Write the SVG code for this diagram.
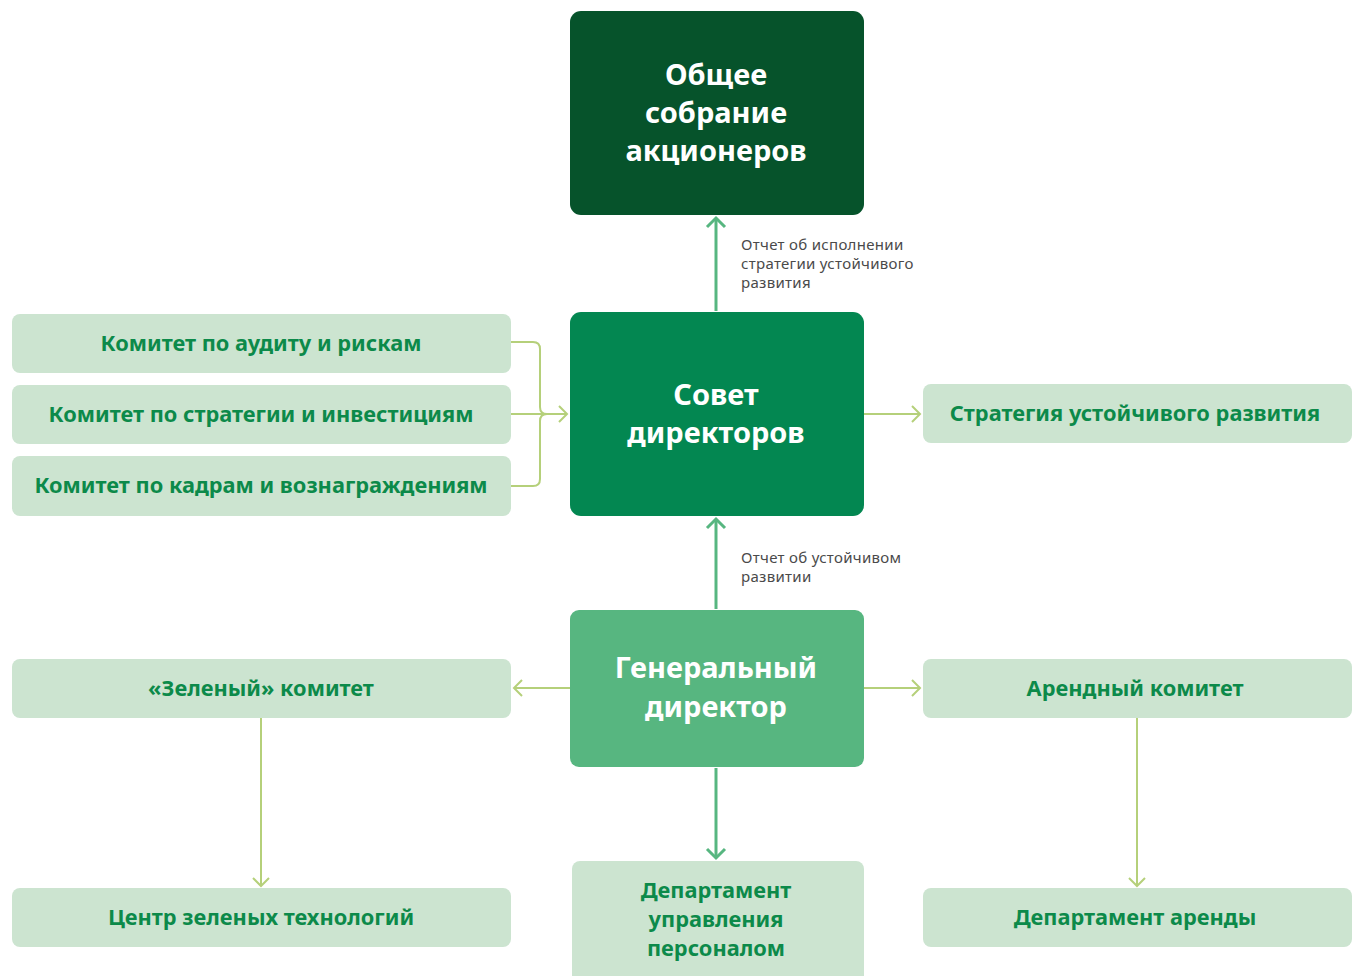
<svg xmlns="http://www.w3.org/2000/svg" width="1354" height="976" viewBox="0 0 1354 976">
<style>
.lt{fill:#cce4d0}
.lbl{font-family:"Noto Sans","Liberation Sans",sans-serif;font-weight:bold;font-size:21.8px;fill:#0c8a4a;text-anchor:middle}
.big{font-family:"Noto Sans","Liberation Sans",sans-serif;font-weight:bold;font-size:29px;fill:#ffffff;text-anchor:middle}
.note{font-family:"Noto Sans","Liberation Sans",sans-serif;font-size:15px;letter-spacing:0.3px;fill:#4a4a4a}
.cg{fill:none;stroke:#57b680;stroke-width:3}
.cy{fill:none;stroke:#b5d07a;stroke-width:2}
</style>
<defs>
<marker id="ag" markerUnits="userSpaceOnUse" viewBox="-12 -12 24 24" markerWidth="24" markerHeight="24" refX="0" refY="0" orient="auto">
<path d="M-9,-9 L0,0 L-9,9" fill="none" stroke="#57b680" stroke-width="3"/>
</marker>
<marker id="ay" markerUnits="userSpaceOnUse" viewBox="-12 -12 24 24" markerWidth="24" markerHeight="24" refX="0" refY="0" orient="auto">
<path d="M-8,-8 L0,0 L-8,8" fill="none" stroke="#b5d07a" stroke-width="2"/>
</marker>
</defs>
<g id="connectors">
<line class="cg" x1="716" y1="311" x2="716" y2="218" marker-end="url(#ag)"/>
<line class="cg" x1="716" y1="609" x2="716" y2="519" marker-end="url(#ag)"/>
<line class="cg" x1="716" y1="768" x2="716" y2="858" marker-end="url(#ag)"/>
<path class="cy" d="M511,342 H533 Q540,342 540,349 V407 Q540,414 547,414 M511,486 H533 Q540,486 540,479 V421 Q540,414 547,414"/>
<line class="cy" x1="511" y1="414" x2="567" y2="414" marker-end="url(#ay)"/>
<line class="cy" x1="864" y1="414" x2="920" y2="414" marker-end="url(#ay)"/>
<line class="cy" x1="570" y1="688" x2="514" y2="688" marker-end="url(#ay)"/>
<line class="cy" x1="864" y1="688" x2="920" y2="688" marker-end="url(#ay)"/>
<line class="cy" x1="261" y1="718" x2="261" y2="886" marker-end="url(#ay)"/>
<line class="cy" x1="1137" y1="718" x2="1137" y2="886" marker-end="url(#ay)"/>
<text class="note" x="741" y="250">Отчет об исполнении</text>
<text class="note" x="741" y="269">стратегии устойчивого</text>
<text class="note" x="741" y="288">развития</text>
<text class="note" x="741" y="563">Отчет об устойчивом</text>
<text class="note" x="741" y="582">развитии</text>
</g>
<g id="n-meeting">
<rect x="570" y="11" width="294" height="204" rx="11" fill="#06532b"/>
<text class="big" x="716" y="85">Общее</text>
<text class="big" x="716" y="123">собрание</text>
<text class="big" x="716" y="161">акционеров</text>
</g>
<g id="n-board">
<rect x="570" y="312" width="294" height="204" rx="11" fill="#038751"/>
<text class="big" x="716" y="405">Совет</text>
<text class="big" x="716" y="443">директоров</text>
</g>
<g id="n-ceo">
<rect x="570" y="610" width="294" height="157" rx="9" fill="#57b680"/>
<text class="big" x="716" y="678">Генеральный</text>
<text class="big" x="716" y="717">директор</text>
</g>
<g id="n-audit">
<rect class="lt" x="12" y="314" width="499" height="59" rx="8"/>
<text class="lbl" x="261" y="351">Комитет по аудиту и рискам</text>
</g>
<g id="n-strat">
<rect class="lt" x="12" y="385" width="499" height="59" rx="8"/>
<text class="lbl" x="261" y="422">Комитет по стратегии и инвестициям</text>
</g>
<g id="n-hr">
<rect class="lt" x="12" y="456" width="499" height="60" rx="8"/>
<text class="lbl" x="261" y="493">Комитет по кадрам и вознаграждениям</text>
</g>
<g id="n-sds">
<rect class="lt" x="923" y="384" width="429" height="59" rx="8"/>
<text class="lbl" x="1135" y="421">Стратегия устойчивого развития</text>
</g>
<g id="n-green">
<rect class="lt" x="12" y="659" width="499" height="59" rx="8"/>
<text class="lbl" x="261" y="696">«Зеленый» комитет</text>
</g>
<g id="n-rent">
<rect class="lt" x="923" y="659" width="429" height="59" rx="8"/>
<text class="lbl" x="1135" y="696">Арендный комитет</text>
</g>
<g id="n-center">
<rect class="lt" x="12" y="888" width="499" height="59" rx="8"/>
<text class="lbl" x="261" y="925">Центр зеленых технологий</text>
</g>
<g id="n-hrdept">
<rect class="lt" x="572" y="861" width="292" height="130" rx="8"/>
<text class="lbl" x="716" y="898">Департамент</text>
<text class="lbl" x="716" y="927">управления</text>
<text class="lbl" x="716" y="956">персоналом</text>
</g>
<g id="n-rentdept">
<rect class="lt" x="923" y="888" width="429" height="59" rx="8"/>
<text class="lbl" x="1135" y="925">Департамент аренды</text>
</g>
</svg>
